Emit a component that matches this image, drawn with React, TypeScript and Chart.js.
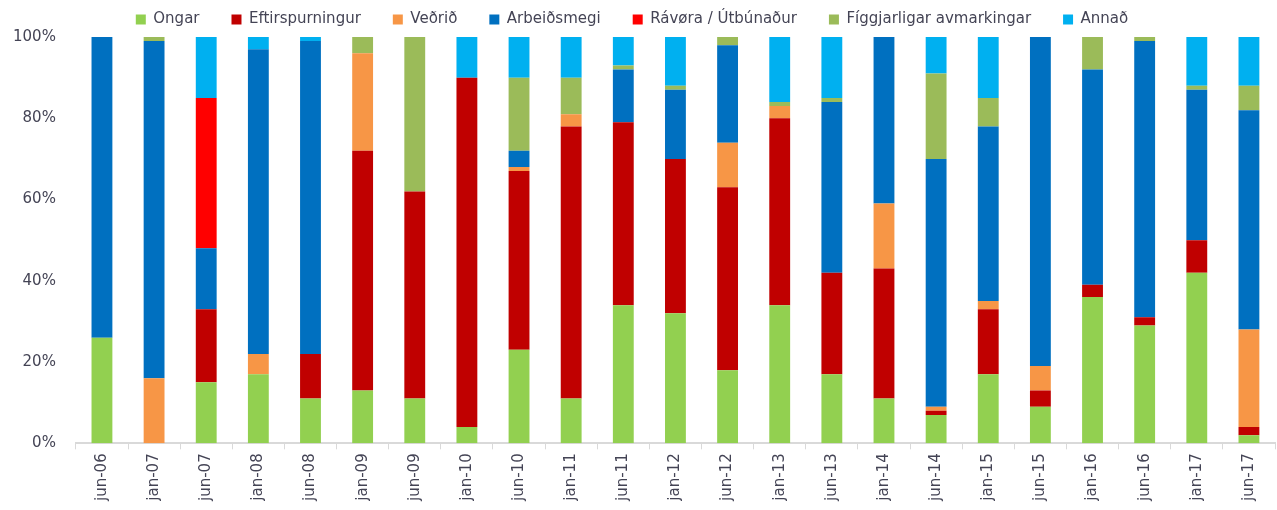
import React, { useEffect, useRef } from "react";
import { Chart, registerables } from "chart.js";

Chart.register(...registerables);

const categories = [
  "jun-06", "jan-07", "jun-07", "jan-08", "jun-08", "jan-09", "jun-09", "jan-10",
  "jun-10", "jan-11", "jun-11", "jan-12", "jun-12", "jan-13", "jun-13", "jan-14",
  "jun-14", "jan-15", "jun-15", "jan-16", "jun-16", "jan-17", "jun-17",
];

const ongar = [26, 0, 15, 17, 11, 13, 11, 4, 23, 11, 34, 32, 18, 34, 17, 11, 7, 17, 9, 36, 29, 42, 2];
const eftirspurningur = [0, 0, 18, 0, 11, 59, 51, 86, 44, 67, 45, 38, 45, 46, 25, 32, 1, 16, 4, 3, 2, 8, 2];
const vedrid = [0, 16, 0, 5, 0, 24, 0, 0, 1, 3, 0, 0, 11, 3, 0, 16, 1, 2, 6, 0, 0, 0, 24];
const arbeidsmegi = [74, 83, 15, 75, 77, 0, 0, 0, 4, 0, 13, 17, 24, 0, 42, 41, 61, 43, 81, 53, 68, 37, 54];
const ravora = [0, 0, 37, 0, 0, 0, 0, 0, 0, 0, 0, 0, 0, 0, 0, 0, 0, 0, 0, 0, 0, 0, 0];
const figgjarligar = [0, 1, 0, 0, 0, 4, 38, 0, 18, 9, 1, 1, 2, 1, 1, 0, 21, 7, 0, 8, 1, 1, 6];
const annad = [0, 0, 15, 3, 1, 0, 0, 10, 10, 10, 7, 12, 0, 16, 15, 0, 9, 15, 0, 0, 0, 12, 12];

const yTicks = [0, 20, 40, 60, 80, 100];

const FONT = "'DejaVu Sans', Verdana, sans-serif";
const TEXT = "#444455";

const legendShift = {
  id: "legendShift",
  beforeDraw(chart: any) {
    const lg = chart.legend;
    if (lg && !lg._shifted) {
      lg.left -= 6;
      lg.right -= 6;
      lg._shifted = true;
    }
  },
};

export default function App() {
  const ref = useRef<HTMLCanvasElement | null>(null);

  useEffect(() => {
    if (!ref.current) return;
    const chart = new Chart(ref.current, {
      type: "bar",
      data: {
        labels: categories,
        datasets: [
          { label: "Ongar", data: ongar, backgroundColor: "#92D050" },
          { label: "Eftirspurningur", data: eftirspurningur, backgroundColor: "#C00000" },
          { label: "Veðrið", data: vedrid, backgroundColor: "#F79646" },
          { label: "Arbeiðsmegi", data: arbeidsmegi, backgroundColor: "#0070C0" },
          { label: "Rávøra / Útbúnaður", data: ravora, backgroundColor: "#FF0000" },
          { label: "Fíggjarligar avmarkingar", data: figgjarligar, backgroundColor: "#9BBB59" },
          { label: "Annað", data: annad, backgroundColor: "#00B0F0" },
        ],
      },
      plugins: [legendShift],
      options: {
        responsive: false,
        animation: false,
        layout: { padding: { top: -20, left: 1, right: 2, bottom: 5 } },
        datasets: {
          bar: { categoryPercentage: 1, barPercentage: 0.4, borderWidth: 0 },
        },
        plugins: {
          tooltip: { enabled: false },
          legend: {
            position: "top",
            labels: {
              boxWidth: 10,
              boxHeight: 10,
              padding: 32,
              color: TEXT,
              font: { family: FONT, size: 15 },
            },
          },
        },
        scales: {
          x: {
            stacked: true,
            grid: {
              display: true,
              drawOnChartArea: false,
              drawTicks: true,
              tickLength: 6,
              color: "#d9d9d9",
              offset: true,
            },
            border: { display: true, color: "#d9d9d9", width: 2 },
            ticks: {
              autoSkip: false,
              maxRotation: 90,
              minRotation: 90,
              padding: 4,
              color: TEXT,
              font: { family: FONT, size: 15 },
            },
          },
          y: {
            stacked: true,
            min: 0,
            max: 100,
            afterBuildTicks: (axis: any) => {
              axis.ticks = yTicks.map((v) => ({ value: v }));
            },
            grid: { display: false },
            border: { display: false },
            ticks: {
              padding: 12,
              color: TEXT,
              font: { family: FONT, size: 15 },
              callback: (v: any) => v + "%",
            },
          },
        },
      },
    });
    return () => chart.destroy();
  }, []);

  return (
    <div style={{ position: "fixed", left: 0, top: 0, width: 1277, height: 510, background: "#fff" }}>
      <canvas ref={ref} width={1277} height={510} style={{ display: "block" }} />
    </div>
  );
}
